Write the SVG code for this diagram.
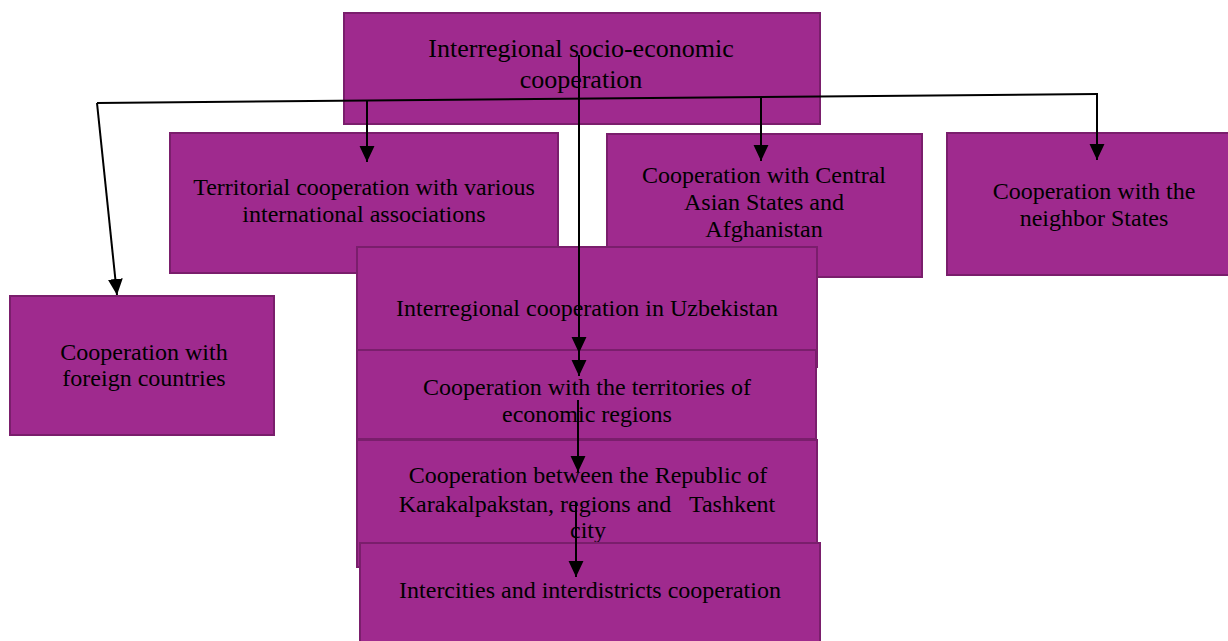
<svg xmlns="http://www.w3.org/2000/svg" width="1228" height="641" viewBox="0 0 1228 641">
<defs>
<style>
.box{fill:#9f2a8e;stroke:#7a1e6c;stroke-width:2}
.t{font-family:"Liberation Serif","Times New Roman",serif;font-size:24px;fill:#000;text-anchor:middle}
.tl{font-size:26px}
.c{fill:none;stroke:#000;stroke-width:2}
</style>
<marker id="ah" markerUnits="userSpaceOnUse" markerWidth="16" markerHeight="16" refX="15" refY="7" orient="auto" viewBox="0 0 15 14">
<path d="M0,0 L15,7 L0,14 z" fill="#000"/>
</marker>
</defs>
<rect width="1228" height="641" fill="#fff"/>
<g id="n-top"><rect class="box" x="344" y="13" width="476" height="111"/>
<text class="t tl" x="581" y="57">Interregional socio-economic</text>
<text class="t tl" x="581" y="88">cooperation</text></g>
<g id="n-territorial"><rect class="box" x="170" y="133" width="388" height="140"/>
<text class="t" x="364" y="195">Territorial cooperation with various</text>
<text class="t" x="364" y="222">international associations</text></g>
<g id="n-central"><rect class="box" x="607" y="134" width="315" height="143"/>
<text class="t" x="764" y="183">Cooperation with Central</text>
<text class="t" x="764" y="210">Asian States and</text>
<text class="t" x="764" y="237">Afghanistan</text></g>
<g id="n-neighbor"><rect class="box" x="947" y="133" width="300" height="142"/>
<text class="t" x="1094" y="199">Cooperation with the</text>
<text class="t" x="1094" y="226">neighbor States</text></g>
<g id="n-foreign"><rect class="box" x="10" y="296" width="264" height="139"/>
<text class="t" x="144" y="360">Cooperation with</text>
<text class="t" x="144" y="386">foreign countries</text></g>
<g id="n-uzbekistan"><rect class="box" x="357" y="247" width="460" height="120"/>
<text class="t" x="587" y="316">Interregional cooperation in Uzbekistan</text></g>
<g id="n-territories"><rect class="box" x="357" y="350" width="459" height="89"/>
<text class="t" x="587" y="395">Cooperation with the territories of</text>
<text class="t" x="587" y="422">economic regions</text></g>
<g id="n-karakalpakstan"><rect class="box" x="357" y="440" width="460" height="127"/>
<text class="t" x="588" y="483">Cooperation between the Republic of</text>
<text class="t" x="587" y="512" xml:space="preserve">Karakalpakstan, regions and   Tashkent</text>
<text class="t" x="588" y="538">city</text></g>
<g id="n-intercities"><rect class="box" x="360" y="543" width="460" height="105"/>
<text class="t" x="590" y="598">Intercities and interdistricts cooperation</text></g>
<g id="connectors">
<line class="c" x1="97" y1="103" x2="1098" y2="94"/>
<line class="c" x1="97" y1="103" x2="117" y2="295" marker-end="url(#ah)"/>
<line class="c" x1="367" y1="101" x2="367" y2="162" marker-end="url(#ah)"/>
<line class="c" x1="761" y1="97" x2="761" y2="161" marker-end="url(#ah)"/>
<line class="c" x1="1097" y1="94" x2="1097" y2="160" marker-end="url(#ah)"/>
<line class="c" x1="579" y1="55" x2="579" y2="353" marker-end="url(#ah)"/>
<line class="c" x1="579" y1="340" x2="579" y2="376" marker-end="url(#ah)"/>
<line class="c" x1="578" y1="400" x2="578" y2="472" marker-end="url(#ah)"/>
<line class="c" x1="576" y1="502" x2="576" y2="577" marker-end="url(#ah)"/>
</g>
</svg>
